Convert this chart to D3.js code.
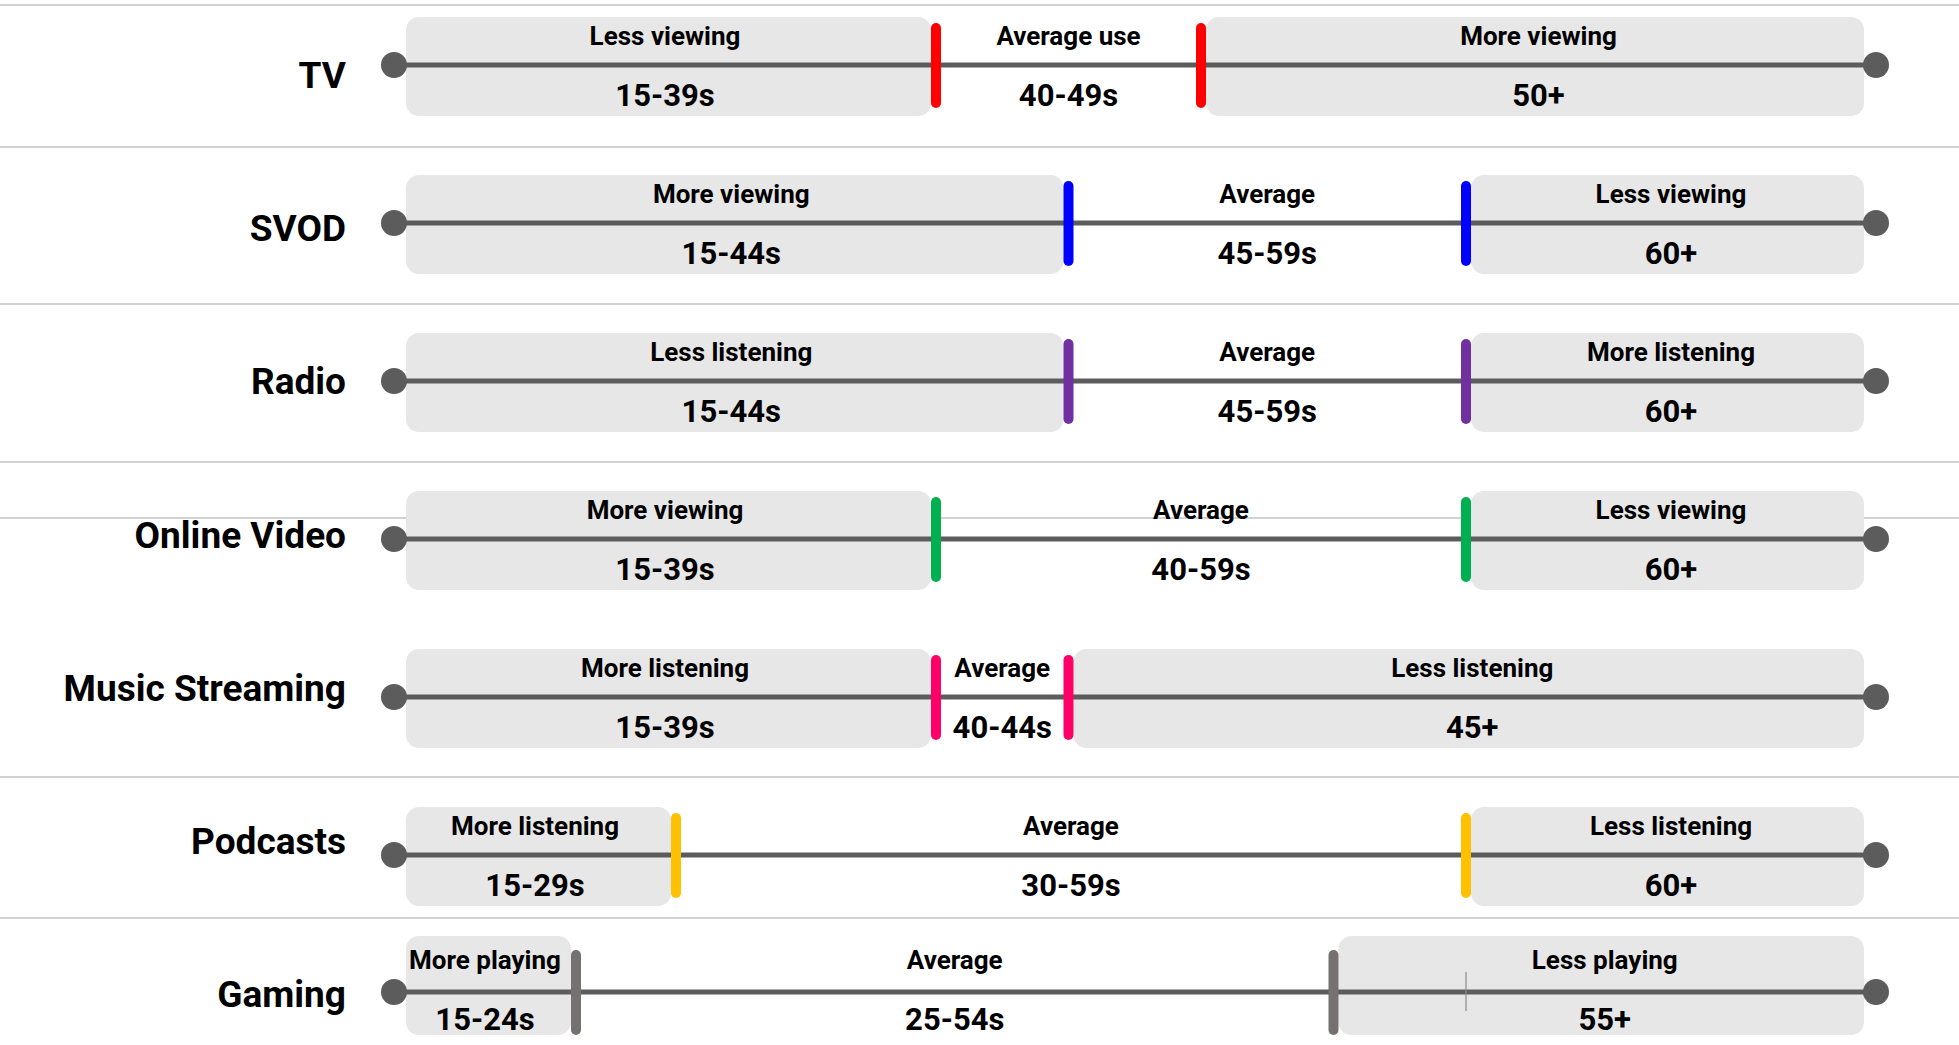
<!DOCTYPE html>
<html>
<head>
<meta charset="utf-8">
<script src="https://cdn.jsdelivr.net/npm/d3@7"></script>
<style>
  html, body { margin: 0; padding: 0; background: #ffffff; }
  svg { display: block; }
  text { font-family: Roboto, "Liberation Sans", sans-serif; font-weight: 700; }
</style>
</head>
<body>
<svg id="chart" width="1959" height="1045"></svg>
<script>
// Media types, one row each
const categories = ["TV", "SVOD", "Radio", "Online Video", "Music Streaming", "Podcasts", "Gaming"];

// Age where the "average" band starts and where the top band starts
const cutLow  = [40, 45, 45, 40, 40, 30, 25];
const cutHigh = [50, 60, 60, 60, 45, 60, 55];

// Band captions
const lowLabels  = ["Less viewing", "More viewing", "Less listening", "More viewing", "More listening", "More listening", "More playing"];
const midLabels  = ["Average use", "Average", "Average", "Average", "Average", "Average", "Average"];
const highLabels = ["More viewing", "Less viewing", "More listening", "Less viewing", "Less listening", "Less listening", "Less playing"];

// Age ranges printed under each band
const lowRanges  = ["15-39s", "15-44s", "15-44s", "15-39s", "15-39s", "15-29s", "15-24s"];
const midRanges  = ["40-49s", "45-59s", "45-59s", "40-59s", "40-44s", "30-59s", "25-54s"];
const highRanges = ["50+", "60+", "60+", "60+", "45+", "60+", "55+"];

// Divider colour per row
const markerColors = ["#ff0000", "#0000ff", "#7030a0", "#00b050", "#ff0066", "#ffc000", "#767171"];

// Age axis extent
const ageStart = 15;
const ageEnd = 80;
// Faint reference tick on the gaming row
const gamingRefTick = 60;

const svg = d3.select("#chart");
const W = 1959;

// Age -> x (piecewise, matches the uneven spacing of the bands)
const x = d3.scaleLinear()
  .domain([15, 25, 30, 40, 60, 80])
  .range([394, 576, 676, 936, 1466, 1876]);

// Row index -> axis y
const rowY = d3.scaleLinear().domain([0, 5, 6]).range([65, 855, 992]);
// Row index -> category label centre
const labelY = d3.scaleLinear().domain([0, 6]).range([75, 994]);

const rows = categories.map((c, i) => ({ i, c }));

// horizontal dividers
const dividers = [5, 147, 304, 462, 518, 777, 918];
svg.append("g").selectAll("line").data(dividers).join("line")
  .attr("x1", 0).attr("x2", W)
  .attr("y1", d => d).attr("y2", d => d)
  .attr("stroke", "#d2d2d2").attr("stroke-width", 2);

const row = svg.append("g").selectAll("g.row").data(rows).join("g")
  .attr("class", "row")
  .attr("transform", d => `translate(0,${rowY(d.i)})`);

// shaded boxes behind the low and high bands
const pad = 12, gap = 5;
const boxTop = d => d.c === "Gaming" ? -56 : -48;
row.append("rect")
  .attr("x", d => x(ageStart) + pad)
  .attr("y", boxTop)
  .attr("width", d => x(cutLow[d.i]) - gap - x(ageStart) - pad)
  .attr("height", 99)
  .attr("rx", 13)
  .attr("fill", "#e7e7e7");
row.append("rect")
  .attr("x", d => x(cutHigh[d.i]) + gap)
  .attr("y", boxTop)
  .attr("width", d => x(ageEnd) - pad - x(cutHigh[d.i]) - gap)
  .attr("height", 99)
  .attr("rx", 13)
  .attr("fill", "#e7e7e7");

// axis line with end dots
row.append("line")
  .attr("x1", x(ageStart)).attr("x2", x(ageEnd))
  .attr("stroke", "#5c5c5c").attr("stroke-width", 5);
row.selectAll("circle").data([ageStart, ageEnd]).join("circle")
  .attr("cx", d => x(d)).attr("cy", 0).attr("r", 13)
  .attr("fill", "#5c5c5c");

// faint tick on gaming row
row.filter(d => d.c === "Gaming").append("line")
  .attr("x1", x(gamingRefTick)).attr("x2", x(gamingRefTick))
  .attr("y1", -20).attr("y2", 19)
  .attr("stroke", "#8a8a8a").attr("stroke-width", 1.2);

// coloured band dividers
row.selectAll("line.marker").data(d => [cutLow[d.i], cutHigh[d.i]].map(v => ({ v, col: markerColors[d.i] })))
  .join("line").attr("class", "marker")
  .attr("x1", d => x(d.v)).attr("x2", d => x(d.v))
  .attr("y1", -37).attr("y2", 38)
  .attr("stroke", d => d.col).attr("stroke-width", 10)
  .attr("stroke-linecap", "round");

// band captions
function bandCentres(i) {
  return [
    (x(ageStart) + x(cutLow[i])) / 2,
    (x(cutLow[i]) + x(cutHigh[i])) / 2,
    (x(cutHigh[i]) + x(ageEnd)) / 2
  ];
}
function addText(sel, cx, cy, txt, size, anchor) {
  sel.append("text")
    .attr("x", cx).attr("y", cy)
    .attr("text-anchor", anchor || "middle")
    .attr("font-size", size)
    .attr("fill", "#000")
    .text(txt);
}
row.each(function (d) {
  const g = d3.select(this);
  const cs = bandCentres(d.i);
  const tops = [lowLabels[d.i], midLabels[d.i], highLabels[d.i]];
  const bots = [lowRanges[d.i], midRanges[d.i], highRanges[d.i]];
  const dy = d.c === "Gaming" ? -3 : 0;
  cs.forEach((cx, k) => {
    addText(g, cx, -20 + dy, tops[k], 26);
    addText(g, cx, 41 + dy, bots[k], 31);
  });
});

// category names
const names = svg.append("g");
rows.forEach(d => {
  addText(names, 346, labelY(d.i) + 13, d.c, 37, "end");
});
</script>
</body>
</html>
